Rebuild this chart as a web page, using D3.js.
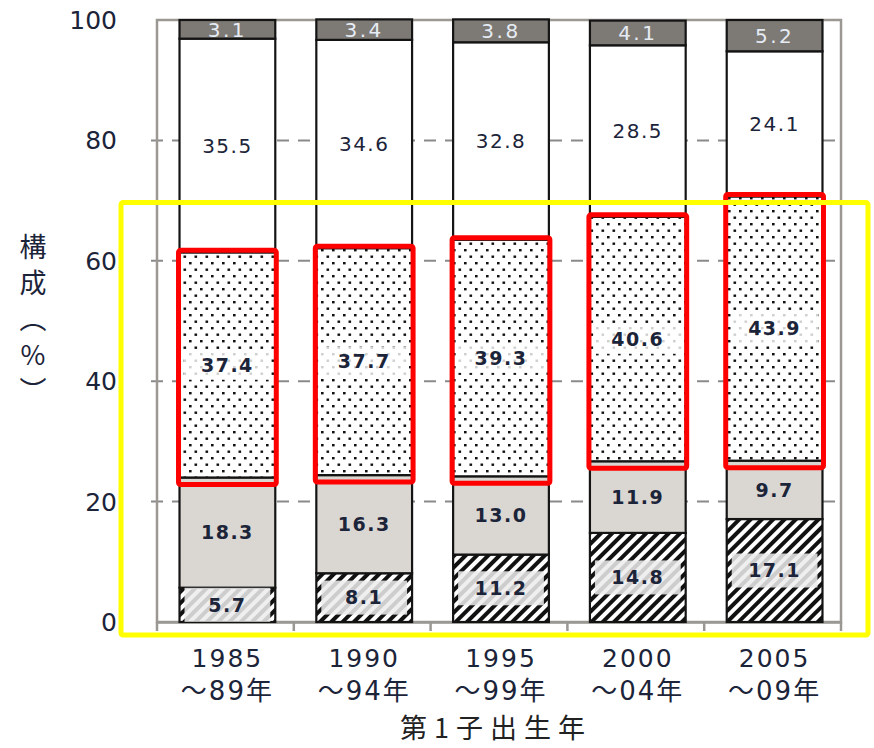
<!DOCTYPE html>
<html>
<head>
<meta charset="utf-8">
<script src="https://cdn.jsdelivr.net/npm/d3@7"></script>
<style>
  body { margin: 0; background: #fff; }
  svg { display: block; }
</style>
</head>
<body>
<div id="chart"></div>
<script>
// data (%)
const periods = ["1985", "1990", "1995", "2000", "2005"];
const periodEnds = ["～89年", "～94年", "～99年", "～04年", "～09年"];
const hatched = [5.7, 8.1, 11.2, 14.8, 17.1];
const grayPart = [18.3, 16.3, 13.0, 11.9, 9.7];
const dotted = [37.4, 37.7, 39.3, 40.6, 43.9];
const whitePart = [35.5, 34.6, 32.8, 28.5, 24.1];
const darkTop = [3.1, 3.4, 3.8, 4.1, 5.2];
const yTicks = [0, 20, 40, 60, 80, 100];
const yTitle = ["構", "成", "︵", "%", "︶"];
const xTitle = "第1子出生年";

const keys = ["hatched", "grayPart", "dotted", "whitePart", "darkTop"];
const table = periods.map((p, i) => ({
    period: p,
    hatched: hatched[i],
    grayPart: grayPart[i],
    dotted: dotted[i],
    whitePart: whitePart[i],
    darkTop: darkTop[i]
}));

const W = 874, H = 748;
const plot = { left: 157, right: 841, top: 20, bottom: 622 };
const numFont = "'DejaVu Sans', Verdana, 'Noto Sans CJK JP', sans-serif";
const jpFont = "'Noto Sans CJK JP', sans-serif";
const ink = "#1c2439";

const svg = d3.select("#chart").append("svg")
    .attr("width", W)
    .attr("height", H);

const defs = svg.append("defs");

// dot pattern
const dots = defs.append("pattern")
    .attr("id", "dots")
    .attr("patternUnits", "userSpaceOnUse")
    .attr("width", 11).attr("height", 13);
dots.append("rect").attr("width", 11).attr("height", 13).attr("fill", "#fff");
dots.append("rect").attr("x", 2).attr("y", 2).attr("width", 2.6).attr("height", 2.4).attr("fill", "#111");
dots.append("rect").attr("x", 7.5).attr("y", 8.5).attr("width", 2.6).attr("height", 2.4).attr("fill", "#111");

// diagonal hatch
const hatch = defs.append("pattern")
    .attr("id", "hatch")
    .attr("patternUnits", "userSpaceOnUse")
    .attr("width", 8).attr("height", 8)
    .attr("patternTransform", "rotate(45)");
hatch.append("rect").attr("width", 8).attr("height", 8).attr("fill", "#fff");
hatch.append("rect").attr("x", 0).attr("width", 4).attr("height", 8).attr("fill", "#111");

const fills = {
    hatched: "url(#hatch)",
    grayPart: "#dad7d2",
    dotted: "url(#dots)",
    whitePart: "#fff",
    darkTop: "#7d7975"
};

const x = d3.scaleBand()
    .domain(periods)
    .range([plot.left, plot.right]);

const barW = x.bandwidth() * 0.7;
const barX = d => x(d) + (x.bandwidth() - barW) / 2 + 2;

const y = d3.scaleLinear()
    .domain([0, 100])
    .range([plot.bottom, plot.top]);

// dashed grid
svg.append("g")
    .selectAll("line")
    .data(yTicks.filter(t => t > 0 && t < 100))
    .enter().append("line")
    .attr("x1", plot.left - 6)
    .attr("x2", plot.right)
    .attr("y1", d => y(d))
    .attr("y2", d => y(d))
    .attr("stroke", "#8a8a8a")
    .attr("stroke-width", 2)
    .attr("stroke-dasharray", "12,9");

// frame
svg.append("rect")
    .attr("x", plot.left)
    .attr("y", plot.top)
    .attr("width", plot.right - plot.left)
    .attr("height", plot.bottom - plot.top)
    .attr("fill", "none")
    .attr("stroke", "#9b9894")
    .attr("stroke-width", 2.5);

// bottom axis with ticks at band edges
const xAxis = svg.append("g")
    .attr("transform", `translate(0,${plot.bottom})`)
    .call(d3.axisBottom(x).tickSize(0).tickFormat(""));
xAxis.select(".domain").attr("stroke", "#9b9894").attr("stroke-width", 2.5);
xAxis.selectAll(".edge")
    .data(periods.map(p => x(p)).concat([plot.right]))
    .enter().append("line")
    .attr("class", "edge")
    .attr("x1", d => d).attr("x2", d => d)
    .attr("y1", 0).attr("y2", 9)
    .attr("stroke", "#9b9894")
    .attr("stroke-width", 2.5);

// y tick labels
svg.append("g")
    .selectAll("text")
    .data(yTicks)
    .enter().append("text")
    .attr("x", 117)
    .attr("y", d => y(d))
    .attr("dy", "0.36em")
    .attr("text-anchor", "end")
    .attr("font-family", numFont)
    .attr("font-size", 25)
    .attr("fill", ink)
    .text(d => d);

// stacked bars
const stacked = d3.stack().keys(keys)(table);

const layers = svg.append("g")
    .selectAll("g")
    .data(stacked)
    .enter().append("g")
    .attr("fill", d => fills[d.key]);

layers.selectAll("rect")
    .data(d => d)
    .enter().append("rect")
    .attr("x", d => barX(d.data.period))
    .attr("y", d => y(d[1]))
    .attr("width", barW)
    .attr("height", d => y(d[0]) - y(d[1]))
    .attr("stroke", "#141414")
    .attr("stroke-width", 2.2);

// labels
const fmt = d3.format(".1f");
stacked.forEach(layer => {
    const key = layer.key;
    const g = svg.append("g");
    layer.forEach(d => {
        const cx = barX(d.data.period) + barW / 2;
        const cy = (y(d[0]) + y(d[1])) / 2;
        if (key === "hatched") {
            g.append("rect")
                .attr("x", cx - barW / 2 + 5)
                .attr("y", cy - 17)
                .attr("width", barW - 10)
                .attr("height", 34)
                .attr("fill", "#ececec")
                .attr("opacity", 0.86);
        }
        if (key === "dotted") {
            g.append("rect")
                .attr("x", cx - barW / 2 + 4)
                .attr("y", cy - 15)
                .attr("width", barW - 8)
                .attr("height", 30)
                .attr("fill", "#fff")
                .attr("opacity", 0.8);
        }
        const bold = key === "hatched" || key === "grayPart" || key === "dotted";
        g.append("text")
            .attr("x", cx)
            .attr("y", cy)
            .attr("dy", "0.36em")
            .attr("text-anchor", "middle")
            .attr("font-family", numFont)
            .attr("font-size", bold ? 19 : 20)
            .attr("font-weight", bold ? "bold" : "normal")
            .attr("letter-spacing", key === "darkTop" ? 2.5 : 1.5)
            .attr("fill", key === "darkTop" ? "#e6ecf4" : ink)
            .text(fmt(d.data[key]));
    });
});

// x labels (two lines)
const xl = svg.append("g")
    .selectAll("g")
    .data(periods)
    .enter().append("g")
    .attr("transform", d => `translate(${barX(d) + barW / 2},0)`);
xl.append("text")
    .attr("y", 667)
    .attr("text-anchor", "middle")
    .attr("font-family", numFont)
    .attr("font-size", 25)
    .attr("letter-spacing", 2)
    .attr("fill", ink)
    .text(d => d);
xl.append("text")
    .attr("y", 700)
    .attr("text-anchor", "middle")
    .attr("font-family", numFont)
    .attr("font-size", 26)
    .attr("letter-spacing", 2)
    .attr("fill", ink)
    .text((d, i) => periodEnds[i]);

// x title
svg.append("text")
    .attr("x", 496)
    .attr("y", 738)
    .attr("text-anchor", "middle")
    .attr("font-family", jpFont)
    .attr("font-size", 27)
    .attr("letter-spacing", 7)
    .attr("fill", "#222")
    .text(xTitle);

// y title, stacked vertically
svg.append("g")
    .selectAll("text")
    .data(yTitle)
    .enter().append("text")
    .attr("x", 33)
    .attr("y", (d, i) => 257 + i * 36)
    .attr("text-anchor", "middle")
    .attr("font-family", jpFont)
    .attr("font-size", 27)
    .attr("fill", ink)
    .text(d => d);

// highlight boxes around the dotted share
const dotLayer = stacked.find(s => s.key === "dotted");
svg.append("g")
    .selectAll("rect")
    .data(dotLayer)
    .enter().append("rect")
    .attr("x", d => barX(d.data.period) - 1)
    .attr("y", d => y(d[1]) - 2)
    .attr("width", barW + 2)
    .attr("height", d => y(d[0]) - y(d[1]) + 9)
    .attr("rx", 2)
    .attr("fill", "none")
    .attr("stroke", "#ff0000")
    .attr("stroke-width", 5);

// yellow frame round the lower part
svg.append("rect")
    .attr("x", 121)
    .attr("y", y(70) + 2)
    .attr("width", 747)
    .attr("height", plot.bottom + 13 - y(70) - 2)
    .attr("rx", 2)
    .attr("fill", "none")
    .attr("stroke", "#ffff00")
    .attr("stroke-width", 5);
</script>
</body>
</html>
